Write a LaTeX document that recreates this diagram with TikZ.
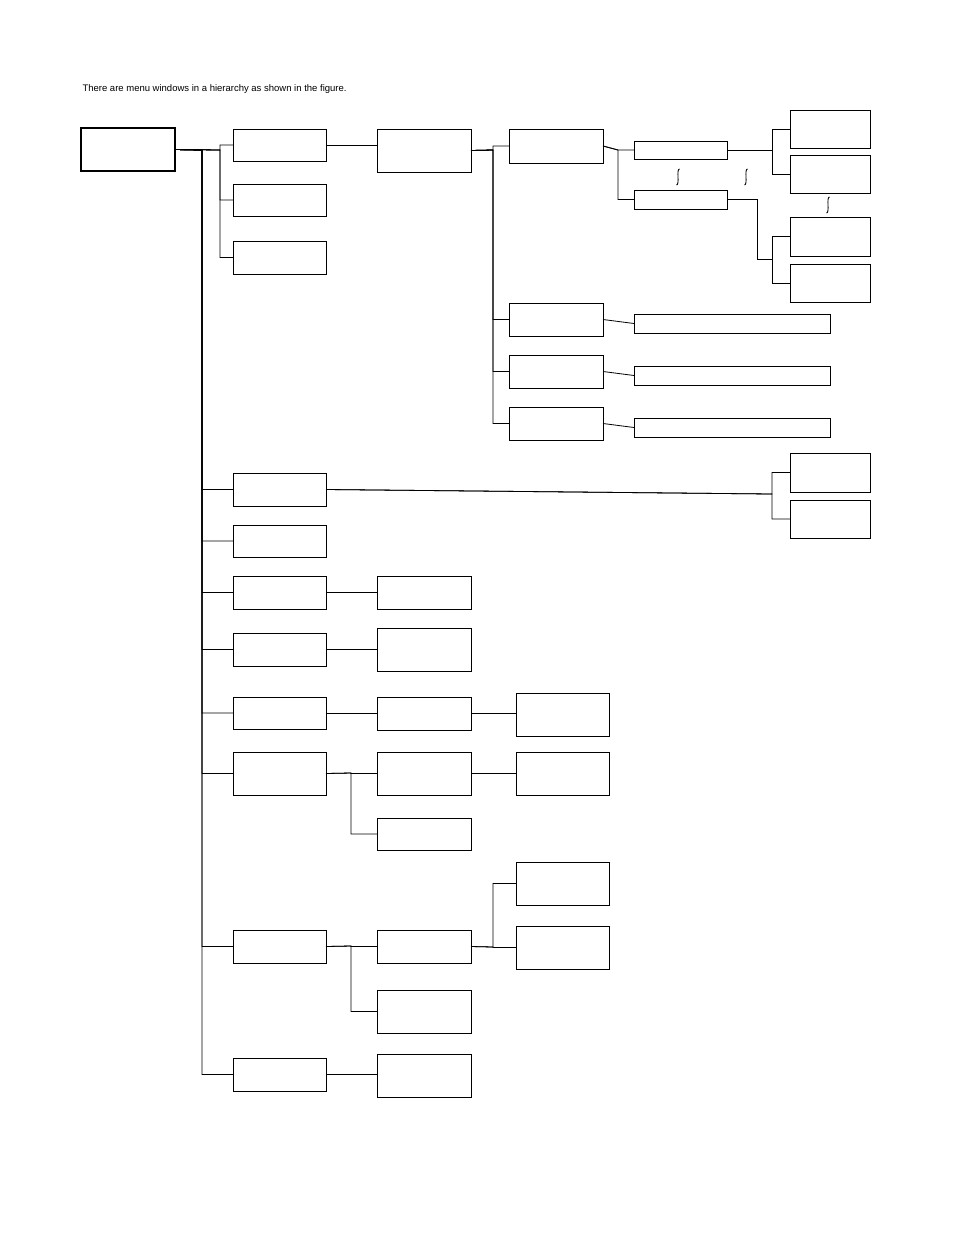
\documentclass[tikz,border=0pt]{standalone}
\usepackage{fontspec}
\setmainfont{Liberation Sans}
\begin{document}
\begin{tikzpicture}[x=1pt,y=-1pt]
    \tikzset{ win/.style={rectangle,draw,line width=1pt,anchor=north west,inner sep=0pt,outer sep=0pt},
            link/.style={line width=0.8pt}}
    \newcommand{\menuwin}[6][]{\node[win,#1,minimum width={(#4-#2)*1pt},minimum height={(#6-#5)*1pt}] (#3) at (#2,#5) {};}
    \useasboundingbox (0,0) rectangle (954,1235);
    \node[anchor=west,font=\fontsize{9.5}{11}\selectfont] (title) at (79,89) {There are menu windows in a hierarchy as shown in the figure.};

    % root and first level
    \menuwin[line width=2pt]{81}{root}{175}{128}{171}
    \foreach \nm/\ya/\yb in {a1/129/161, a2/184/216, a3/241/274, b/473/506, c/525/557, d/576/609, e/633/666, f/697/729, g/752/795, h/930/963, i/1058/1091}
        {\menuwin{233}{one\nm}{326}{\ya}{\yb}}
    \coordinate (s0) at (202,150);
    \coordinate (s1) at (220,150);
    \foreach \c in {b,c,d,e,f,g,h,i}
        {\draw[link] (root.east) -- (s0) |- (one\c.west);}
    \foreach \c in {a1,a2,a3}
        {\draw[link] (root.east) -- (s1) |- (one\c.west);}

    % second level
    \foreach \nm/\ya/\yb in {a1/129/172, d/576/609, e/628/671, f/697/730, g/752/795, gg/818/850, h/930/963, hh/990/1033, i/1054/1097}
        {\menuwin{377}{two\nm}{471}{\ya}{\yb}}
    \foreach \c in {a1,d,e,f,i}
        {\draw[link] (one\c.east) -- (two\c.west |- one\c.east);}
    \coordinate (sg) at (351,773);
    \coordinate (sh) at (351,946);
    \foreach \c in {g,gg}
        {\draw[link] (oneg.east) -- (sg) |- (two\c.west);}
    \foreach \c in {h,hh}
        {\draw[link] (oneh.east) -- (sh) |- (two\c.west);}

    % third level
    \foreach \nm/\ya/\yb in {f/693/736, g/752/795, h/862/905, hh/926/969}
        {\menuwin{516}{three\nm}{609}{\ya}{\yb}}
    \draw[link] (twof.east) -- (threef.west |- twof.east);
    \draw[link] (twog.east) -- (threeg.west |- twog.east);
    \coordinate (shx) at (493,947);
    \foreach \c in {h,hh}
        {\draw[link] (twoh.east) -- (shx) |- (three\c.west);}

    \foreach \nm/\ya/\yb in {a/129/163, b/303/336, c/355/388, d/407/440}
        {\menuwin{509}{pane\nm}{603}{\ya}{\yb}}
    \coordinate (sa) at (493,150);
    \foreach \c in {a,b,c,d}
        {\draw[link] (twoa1.east) -- (sa) |- (pane\c.west);}
    \foreach \nm/\ya/\yb in {b/314/333, c/366/385, d/418/437}
        {\menuwin{634}{bar\nm}{830}{\ya}{\yb}}
    \foreach \c in {b,c,d}
        {\draw[link] (pane\c.east) -- (bar\c.west);}

    % small windows and right column
    \menuwin{634}{tab1}{727}{141}{159}
    \menuwin{634}{tab2}{727}{190}{209}
    \coordinate (sq) at (618,150);
    \foreach \c in {1,2}
        {\draw[link] (panea.east) -- (sq) |- (tab\c.west);}
    \foreach \nm/\ya/\yb in {1/110/148, 2/155/193, 3/217/256, 4/264/302, 5/453/492, 6/500/538}
        {\menuwin{790}{side\nm}{870}{\ya}{\yb}}
    \coordinate (sr1) at (772,150);
    \coordinate (sr2a) at (757,259);
    \coordinate (sr2) at (772,259);
    \coordinate (sr3) at (772,494);
    \foreach \c in {1,2}
        {\draw[link] (tab1.east) -- (sr1) |- (side\c.west);}
    \foreach \c in {3,4}
        {\draw[link] (tab2.east) -| (sr2a) -- (sr2) |- (side\c.west);}
    \foreach \c in {5,6}
        {\draw[link] (oneb.east) -- (sr3) |- (side\c.west);}

    % gaps
    \foreach \x/\y in {678/177, 746/177, 828/205}
        {\draw[line width=0.9pt] (\x-1.5,\y+8) .. controls (\x+2,\y+8) and (\x-2,\y-8) .. (\x+1.5,\y-8);}
\end{tikzpicture}
\end{document}
